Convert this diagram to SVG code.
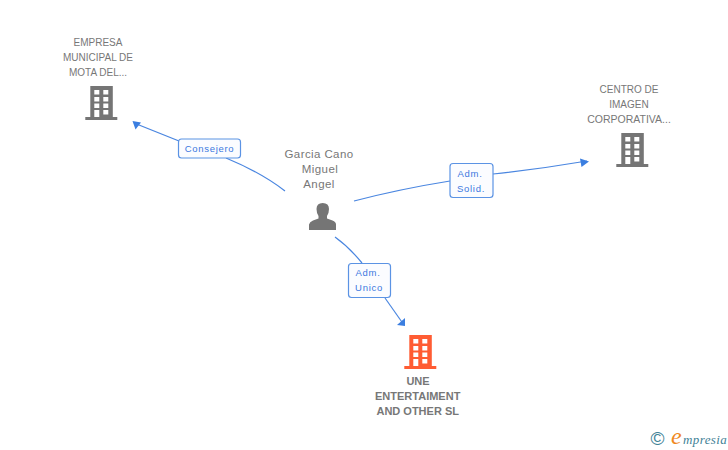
<svg xmlns="http://www.w3.org/2000/svg" width="728" height="450" viewBox="0 0 728 450">
<style>
text{font-family:"Liberation Sans",Arial,sans-serif}
.n{font-size:10.500px;fill:#777;text-anchor:middle}
.m{font-size:10px;fill:#777;text-anchor:middle}
.p{font-size:11.500px;fill:#777;text-anchor:middle;letter-spacing:.4px}
.b{font-size:11px;font-weight:bold;fill:#777;text-anchor:middle}
.l{font-size:9.500px;fill:#3b78e0;text-anchor:middle;letter-spacing:.7px}
.c{fill:none;stroke:#4a86e0;stroke-width:1.2}
.box{fill:#fbfcff;stroke:#5b93e4;stroke-width:1.2}
.a{fill:#3b7ee0}
.lg{font-family:"Liberation Serif",serif;font-style:italic}
</style>
<defs>
<g id="bld">
<path fill-rule="evenodd" d="M5 0H27.500V31H32V34H0V31H5ZM9 4V8.500H14V4ZM18 4V8.500H23V4ZM9 11V15.500H14V11ZM18 11V15.500H23V11ZM9 17.500V22H14V17.500ZM18 17.500V22H23V17.500ZM9 24V31H14V24ZM18 24V28.500H23V24Z"/>
</g>
</defs>
<g id="connectors">
<path class="c" d="M285 191Q262 173 226 158"/>
<path class="c" d="M179 141L134 123"/>
<path class="a" d="M132.500 121L141 122.500L135.500 129.500Z"/>
<path class="c" d="M354 201Q400 189 450 181"/>
<path class="c" d="M493 174Q540 169 587 161"/>
<path class="a" d="M589 161.500L580 158.500L581.500 167Z"/>
<path class="c" d="M335 237Q349 247 362 263"/>
<path class="c" d="M385 298L404 325"/>
<path class="a" d="M405 326L405 318L397 325Z"/>
</g>
<g id="node-empresa">
<text class="m" x="98" y="46">EMPRESA</text>
<text class="m" x="98" y="61">MUNICIPAL DE</text>
<text class="m" x="98" y="76">MOTA DEL...</text>
<use href="#bld" x="85.300" y="86" fill="#757575"/>
</g>
<g id="node-centro">
<text class="m" x="629" y="93">CENTRO DE</text>
<text class="m" x="629" y="108">IMAGEN</text>
<text class="n" x="629" y="123">CORPORATIVA...</text>
<use href="#bld" x="616.300" y="133" fill="#757575"/>
</g>
<g id="node-garcia">
<text class="p" x="319" y="158">Garcia Cano</text>
<text class="p" x="320" y="173">Miguel</text>
<text class="p" x="319" y="188">Angel</text>
<path fill="#757575" d="M309 230V224.500Q309.500 222 313 220.500L318.500 218.500V216Q316.500 213 316.500 209Q316.500 203 322.700 203Q329 203 329 209Q329 213 327 216V218.500L332.500 220.500Q336 222 336 224.500V230Z"/>
</g>
<g id="node-une">
<use href="#bld" x="404.300" y="335" fill="#ff5c33"/>
<text class="b" x="418" y="385">UNE</text>
<text class="b" x="417.700" y="400">ENTERTAIMENT</text>
<text class="b" x="417.700" y="415">AND OTHER SL</text>
</g>
<g id="label-consejero">
<rect class="box" x="178.500" y="139" width="62" height="19" rx="3"/>
<text class="l" x="209.500" y="152">Consejero</text>
</g>
<g id="label-solid">
<rect class="box" x="450" y="163.500" width="43" height="34" rx="3"/>
<text class="l" x="470" y="177">Adm.</text>
<text class="l" x="471" y="192">Solid.</text>
</g>
<g id="label-unico">
<rect class="box" x="348.500" y="263.500" width="42" height="34" rx="3"/>
<text class="l" x="368" y="276">Adm.</text>
<text class="l" x="369" y="291">Unico</text>
</g>
<g id="logo">
<text x="657.500" y="445" font-size="19" fill="#3f8296" text-anchor="middle">©</text>
<text class="lg" x="671" y="444" font-size="24" fill="#f0891e">e</text>
<text class="lg" x="683" y="444" font-size="13" fill="#3f8296" letter-spacing=".4">mpresia</text>
</g>
</svg>
